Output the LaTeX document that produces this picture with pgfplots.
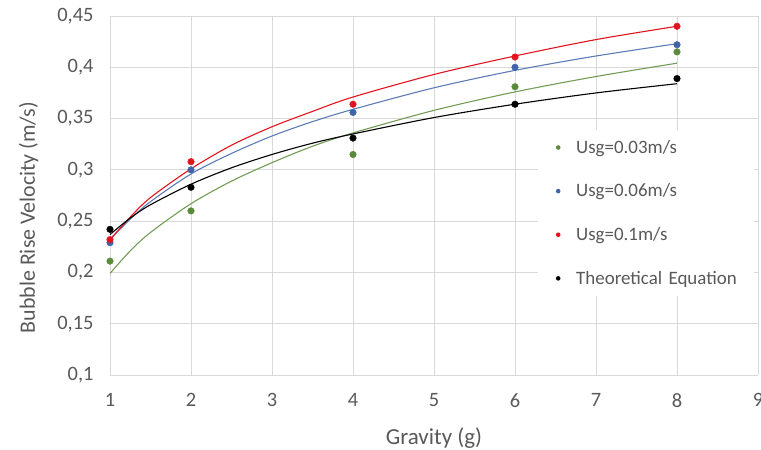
\documentclass[border=0pt]{standalone}
\usepackage{pgfplots}
\pgfplotsset{compat=1.18}
\usepackage{fontspec}
\setmainfont{Carlito}
\definecolor{txt}{HTML}{595959}
\definecolor{gridc}{HTML}{D9D9D9}
\definecolor{cgreen}{HTML}{5A8A3A}
\definecolor{cblue}{HTML}{3F65A8}
\definecolor{cred}{HTML}{E2141E}
\begin{document}
\begin{tikzpicture}
\useasboundingbox (-110bp,-75bp) rectangle (651bp,375bp);
\begin{axis}[
  at={(0,0)}, anchor=south west,
  scale only axis, width=648bp, height=359bp,
  xmin=1, xmax=9, ymin=0.1, ymax=0.45,
  xtick={1,2,...,9},
  ytick={0.1,0.15,0.2,0.25,0.3,0.35,0.4,0.45},
  grid=major,
  major grid style={gridc, line width=0.8bp},
  axis line style={draw=none},
  tick style={draw=none},
  /pgf/number format/assume math mode=true,
  yticklabel style={/pgf/number format/fixed, /pgf/number format/use comma, /pgf/number format/precision=2, font=\fontsize{20.5}{24}\selectfont, text=txt, xshift=-13bp},
  xticklabel style={font=\fontsize{20.5}{24}\selectfont, text=txt, yshift=-15bp},
  xlabel={Gravity (g)}, ylabel={Bubble Rise Velocity (m/s)},
  xlabel style={font=\fontsize{23}{27}\selectfont, text=txt, yshift=-13bp},
  ylabel style={font=\fontsize{22}{26}\selectfont, text=txt, yshift=12bp, xshift=-22bp},
  legend style={at={(428bp,359bp-114bp)}, anchor=north west, draw=none, fill=white,
    font=\fontsize{19}{22}\selectfont, text=txt, row sep=25bp,
    inner xsep=6bp, inner ysep=8bp, text width=170bp},
  legend cell align=left,
  legend image code/.code={\path[draw=none,fill=none] (0bp,0bp) rectangle (30bp,0bp);\fill[#1,draw=none] (14bp,0bp) circle (2.3bp);},
]
% trend lines
\addplot[cgreen!85!white, line width=1.1bp, smooth, forget plot] coordinates {(1,0.199)(1.25,0.221)(1.5,0.239)(2,0.267)(2.5,0.289)(3,0.307)(3.5,0.323)(4,0.336)(5,0.358)(6,0.376)(7,0.391)(8,0.404)};
\addplot[cblue!85!white, line width=1.1bp, smooth, forget plot] coordinates {(1,0.232)(1.25,0.252)(1.5,0.269)(2,0.296)(2.5,0.316)(3,0.333)(3.5,0.347)(4,0.359)(5,0.380)(6,0.397)(7,0.411)(8,0.423)};
\addplot[cred, line width=1.1bp, smooth, forget plot] coordinates {(1,0.232)(1.25,0.254)(1.5,0.273)(2,0.301)(2.5,0.324)(3,0.342)(3.5,0.357)(4,0.371)(5,0.393)(6,0.411)(7,0.427)(8,0.440)};
\addplot[black, line width=1.1bp, smooth, forget plot] coordinates {(1,0.237)(1.25,0.253)(1.5,0.266)(2,0.286)(2.5,0.302)(3,0.315)(3.5,0.326)(4,0.335)(5,0.351)(6,0.364)(7,0.375)(8,0.384)};
% data points
\addplot[only marks, mark=*, mark size=3.3bp, cgreen, fill=cgreen] coordinates {(1,0.211)(2,0.260)(4,0.315)(6,0.381)(8,0.415)};
\addlegendentry{Usg=0.03m/s}
\addplot[only marks, mark=*, mark size=3.3bp, cblue, fill=cblue] coordinates {(1,0.229)(2,0.300)(4,0.356)(6,0.400)(8,0.422)};
\addlegendentry{Usg=0.06m/s}
\addplot[only marks, mark=*, mark size=3.3bp, cred, fill=cred] coordinates {(1,0.232)(2,0.308)(4,0.364)(6,0.410)(8,0.440)};
\addlegendentry{Usg=0.1m/s}
\addplot[only marks, mark=*, mark size=3.3bp, black, fill=black] coordinates {(1,0.242)(2,0.283)(4,0.331)(6,0.364)(8,0.389)};
\addlegendentry{Theoretical Equation}
\end{axis}
\end{tikzpicture}
\end{document}
